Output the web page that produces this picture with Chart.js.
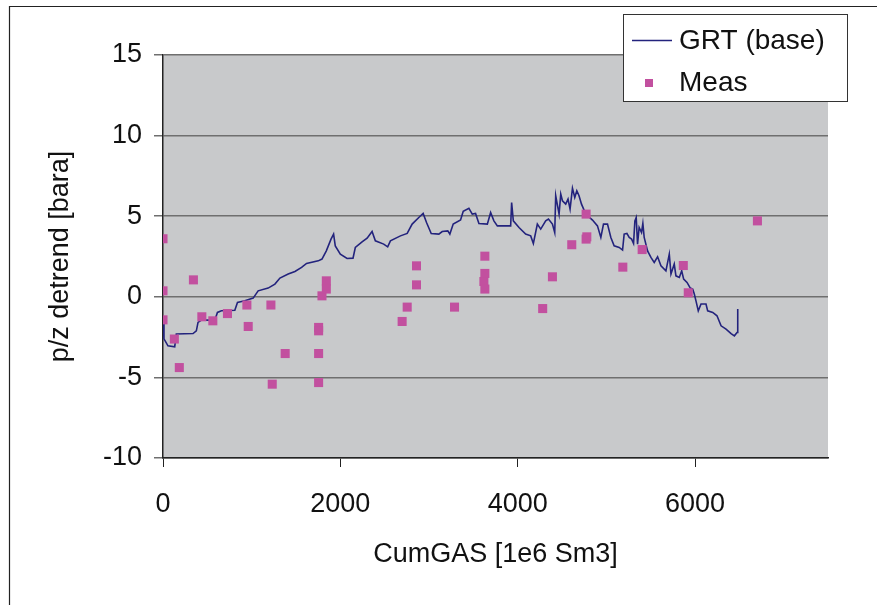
<!DOCTYPE html>
<html>
<head>
<meta charset="utf-8">
<script src="https://cdn.jsdelivr.net/npm/chart.js@4/dist/chart.umd.min.js"></script>
<style>
html,body{margin:0;padding:0;background:#fff;}
#wrap{position:relative;width:877px;height:605px;}
</style>
</head>
<body>
<div id="wrap"><canvas id="c" width="877" height="605"></canvas></div>
<script>
// ---- data ----
const xTicks = [0, 2000, 4000, 6000];
const yTicks = [-10, -5, 0, 5, 10, 15];

const grtX = [0, 11, 56, 132, 150, 339, 376, 395, 433, 584, 614, 659, 810, 840, 923, 1017, 1073, 1186, 1262, 1319, 1412, 1488, 1563, 1619, 1751, 1793, 1842, 1895, 1924, 1943, 2000, 2076, 2143, 2169, 2245, 2302, 2358, 2395, 2489, 2534, 2565, 2678, 2754, 2810, 2885, 2934, 2972, 3025, 3111, 3149, 3212, 3235, 3273, 3356, 3386, 3450, 3488, 3525, 3563, 3658, 3695, 3732, 3771, 3921, 3932, 3951, 4015, 4090, 4147, 4177, 4222, 4260, 4316, 4347, 4392, 4418, 4429, 4467, 4486, 4505, 4542, 4568, 4591, 4618, 4644, 4667, 4692, 4720, 4768, 4844, 4900, 4938, 4968, 5013, 5051, 5088, 5145, 5183, 5201, 5232, 5258, 5285, 5307, 5322, 5337, 5352, 5370, 5397, 5412, 5427, 5465, 5503, 5540, 5578, 5616, 5672, 5710, 5729, 5766, 5785, 5823, 5850, 5872, 5910, 5947, 5974, 5992, 6011, 6037, 6068, 6124, 6143, 6200, 6248, 6294, 6350, 6407, 6444, 6474, 6482];
const grtY = [-1.36, -2.61, -3.04, -3.10, -2.31, -2.28, -2.11, -1.59, -1.45, -1.45, -0.97, -0.87, -0.83, -0.35, -0.25, -0.08, 0.37, 0.54, 0.79, 1.16, 1.41, 1.57, 1.82, 2.07, 2.23, 2.34, 2.85, 3.58, 3.89, 3.16, 2.65, 2.38, 2.40, 3.06, 3.41, 3.64, 4.05, 3.47, 3.27, 3.10, 3.47, 3.78, 3.93, 4.51, 4.92, 5.17, 4.61, 3.93, 3.89, 4.05, 4.09, 3.89, 4.51, 4.76, 5.30, 5.49, 5.13, 5.17, 4.55, 4.51, 5.23, 4.71, 4.40, 4.40, 5.85, 4.71, 4.30, 3.89, 3.78, 3.31, 4.51, 4.20, 4.71, 4.82, 4.51, 3.99, 6.27, 5.13, 6.37, 5.96, 5.75, 6.06, 5.44, 6.74, 6.16, 6.58, 6.27, 5.75, 5.13, 4.76, 4.40, 3.68, 4.51, 4.51, 3.68, 3.16, 3.06, 2.90, 3.89, 3.93, 3.68, 3.58, 3.31, 4.71, 4.92, 3.27, 4.30, 3.99, 4.55, 3.68, 2.85, 2.44, 2.13, 2.48, 1.92, 1.61, 2.65, 1.41, 2.03, 1.30, 1.20, 1.61, 1.10, 0.89, 0.54, 0.48, 0.17, -0.25, -0.87, -0.45, -0.45, -0.87, -0.97, -1.18, -1.80, -2.00, -2.28, -2.42, -2.21, -0.76];

const measX = [0, 0, 0, 128, 184, 343, 438, 562, 727, 946, 961, 1217, 1232, 1378, 1755, 1755, 1755, 1755, 1793, 1842, 1842, 2697, 2754, 2859, 2859, 3288, 3619, 3630, 3630, 3630, 4282, 4392, 4610, 4772, 4772, 4780, 5186, 5404, 5868, 5924, 6704];
const measY = [3.60, 0.37, -1.43, -2.62, -4.39, 1.05, -1.24, -1.49, -1.04, -0.51, -1.84, -0.51, -5.42, -3.52, -1.90, -2.11, -3.52, -5.32, 0.06, 0.99, 0.48, -1.53, -0.64, 1.92, 0.74, -0.64, 0.95, 2.52, 1.45, 0.48, -0.73, 1.24, 3.23, 5.13, 3.58, 3.72, 1.84, 2.93, 1.94, 0.25, 4.71];

const seriesNames = ['GRT (base)', 'Meas'];
const xTitle = 'CumGAS [1e6 Sm3]';
const yTitle = 'p/z detrend [bara]';

// ---- styles ----
const FONT = "'Liberation Sans', Arial, sans-serif";
const lineColor = '#23237d';
const measColor = '#c2509f';
const plotBg = '#c8c9cb';
const gridColor = '#6f6f6f';

const frameAndBg = {
  id: 'frameAndBg',
  beforeDraw(chart) {
    const {ctx, chartArea: a} = chart;
    ctx.save();
    ctx.fillStyle = '#fff';
    ctx.fillRect(0, 0, chart.width, chart.height);
    ctx.fillStyle = plotBg;
    ctx.fillRect(a.left, a.top, a.right - a.left, a.bottom - a.top);
    ctx.strokeStyle = '#222';
    ctx.lineWidth = 1.2;
    ctx.beginPath();
    ctx.moveTo(9.5, chart.height);
    ctx.lineTo(9.5, 6.5);
    ctx.lineTo(chart.width, 6.5);
    ctx.stroke();
    ctx.restore();
  },
  afterDraw(chart) {
    const {ctx} = chart;
    ctx.save();
    // legend box
    const bx = 623, by = 14, bw = 224, bh = 87;
    ctx.fillStyle = '#fff';
    ctx.fillRect(bx, by, bw, bh);
    ctx.strokeStyle = '#333';
    ctx.lineWidth = 1;
    ctx.strokeRect(bx + 0.5, by + 0.5, bw, bh);
    ctx.strokeStyle = lineColor;
    ctx.lineWidth = 1.5;
    ctx.beginPath();
    ctx.moveTo(632, 40.5);
    ctx.lineTo(672, 40.5);
    ctx.stroke();
    ctx.fillStyle = measColor;
    ctx.fillRect(645, 79, 8, 8);
    ctx.fillStyle = '#111';
    ctx.font = '28px ' + FONT;
    ctx.textBaseline = 'middle';
    ctx.textAlign = 'left';
    ctx.fillText(seriesNames[0], 679, 41);
    ctx.fillText(seriesNames[1], 679, 83);
    ctx.restore();
  }
};

new Chart(document.getElementById('c'), {
  type: 'scatter',
  data: {
    datasets: [
      {
        label: seriesNames[0],
        type: 'line',
        data: grtX.map((x, i) => ({x: x, y: grtY[i]})),
        borderColor: lineColor,
        borderWidth: 1.6,
        pointRadius: 0,
        tension: 0,
        fill: false,
        order: 2
      },
      {
        label: seriesNames[1],
        data: measX.map((x, i) => ({x: x, y: measY[i]})),
        backgroundColor: measColor,
        borderColor: measColor,
        borderWidth: 0,
        pointStyle: 'rect',
        pointRadius: 6.4,
        order: 1
      }
    ]
  },
  options: {
    responsive: false,
    animation: false,
    layout: {padding: {left: 0, right: 49, top: 55, bottom: 0}},
    plugins: {legend: {display: false}, tooltip: {enabled: false}},
    scales: {
      x: {
        type: 'linear',
        min: 0, max: 7500,
        afterBuildTicks(s) { s.ticks = xTicks.map(v => ({value: v})); },
        afterFit(s) { s.height = 147; },
        border: {display: true, color: '#222', width: 1.5},
        grid: {drawOnChartArea: false, drawTicks: true, tickLength: 9, color: '#222', lineWidth: 1},
        ticks: {font: {family: FONT, size: 27}, color: '#111', padding: 21, maxRotation: 0,
                callback: v => String(v)},
        title: {display: true, text: xTitle, font: {family: FONT, size: 27}, color: '#111', padding: {top: 0, bottom: 34}}
      },
      y: {
        type: 'linear',
        min: -10, max: 15,
        afterBuildTicks(s) { s.ticks = yTicks.map(v => ({value: v})); },
        afterFit(s) { s.width = 163; },
        border: {display: true, color: '#222', width: 1.5},
        grid: {drawOnChartArea: true, drawTicks: true, tickLength: 9, color: gridColor, lineWidth: 1.5},
        ticks: {font: {family: FONT, size: 27}, color: '#111', padding: 12, callback: v => String(v)},
        title: {display: true, text: yTitle, font: {family: FONT, size: 27}, color: '#111', padding: {top: 44, bottom: 0}}
      }
    }
  },
  plugins: [frameAndBg]
});
</script>
</body>
</html>
